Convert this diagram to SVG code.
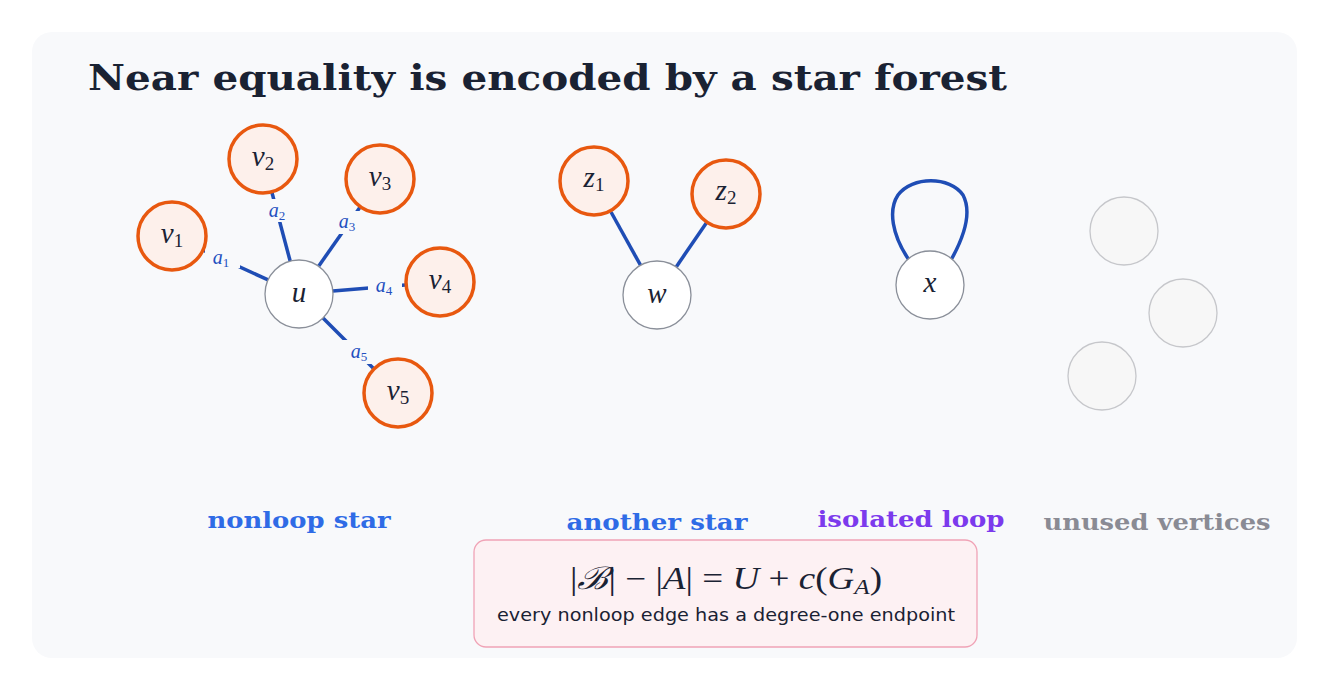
<svg xmlns="http://www.w3.org/2000/svg" width="1330" height="690" viewBox="0 0 1330 690">
<style>
.bg{fill:#f8f9fb}
.leaf{fill:#fdf0eb;stroke:#e8580f;stroke-width:3.5}
.center{fill:#ffffff;stroke:#8a8f99;stroke-width:1.3}
.unused{fill:#f7f7f7;stroke:#c6c7cb;stroke-width:1.3}
.edge{stroke:#1f4db5;stroke-width:3.5;fill:none;stroke-linecap:butt}
.nl{font-family:"Liberation Serif","DejaVu Serif",serif;font-style:italic;font-size:29px;fill:#1a2233;text-anchor:middle}
.sub{font-style:normal;font-size:19px}
.el{font-family:"Liberation Serif","DejaVu Serif",serif;font-style:italic;font-size:20px;fill:#2450c0;text-anchor:middle}
.esub{font-style:normal;font-size:13px}
.lab{font-family:"DejaVu Serif","Liberation Serif",serif;font-weight:bold;font-size:23px;text-anchor:middle}
.gap{fill:#f8f9fb}
</style>
<rect class="bg" x="32" y="32" width="1265" height="626" rx="20"/>
<text x="88" y="90" font-family="DejaVu Serif,Liberation Serif,serif" font-weight="bold" font-size="36" fill="#1a2233" textLength="919" lengthAdjust="spacingAndGlyphs">Near equality is encoded by a star forest</text>
<g id="connectors">
<line class="edge" x1="268.1" y1="279.9" x2="203.8" y2="250.5"/>
<line class="edge" x1="290.2" y1="261.2" x2="272" y2="192.8"/>
<line class="edge" x1="318.6" y1="266.2" x2="359.8" y2="207.6"/>
<line class="edge" x1="332.9" y1="291.1" x2="405.1" y2="285"/>
<line class="edge" x1="323" y1="318" x2="373.3" y2="368.3"/>
<line class="edge" x1="640.5" y1="265.2" x2="611" y2="212"/>
<line class="edge" x1="676.2" y1="266.9" x2="706.3" y2="222.9"/>
<path class="edge" d="M 909 260 C 892 235, 888 210, 898 195 C 912 176, 950 176, 963 195 C 972 212, 965 235, 951 260"/>
<rect class="gap" x="205" y="246" width="35" height="22"/>
<rect class="gap" x="262" y="199" width="31" height="23"/>
<rect class="gap" x="332" y="211" width="31" height="23"/>
<rect class="gap" x="368" y="275" width="34" height="22"/>
<rect class="gap" x="342" y="340" width="34" height="24"/>
<text class="el" x="221" y="264">a<tspan class="esub" dy="3">1</tspan></text>
<text class="el" x="277" y="217">a<tspan class="esub" dy="3">2</tspan></text>
<text class="el" x="347" y="228">a<tspan class="esub" dy="3">3</tspan></text>
<text class="el" x="384" y="292">a<tspan class="esub" dy="3">4</tspan></text>
<text class="el" x="359" y="358">a<tspan class="esub" dy="3">5</tspan></text>
</g>
<g id="u"><circle class="center" cx="299" cy="294" r="34"/><text class="nl" x="299" y="302">u</text></g>
<g id="v1"><circle class="leaf" cx="172" cy="236" r="34"/><text class="nl" x="172" y="243">v<tspan class="sub" dy="4">1</tspan></text></g>
<g id="v2"><circle class="leaf" cx="263" cy="159" r="34"/><text class="nl" x="263" y="166">v<tspan class="sub" dy="4">2</tspan></text></g>
<g id="v3"><circle class="leaf" cx="380" cy="179" r="34"/><text class="nl" x="380" y="186">v<tspan class="sub" dy="4">3</tspan></text></g>
<g id="v4"><circle class="leaf" cx="440" cy="282" r="34"/><text class="nl" x="440" y="289">v<tspan class="sub" dy="4">4</tspan></text></g>
<g id="v5"><circle class="leaf" cx="398" cy="393" r="34"/><text class="nl" x="398" y="400">v<tspan class="sub" dy="4">5</tspan></text></g>
<g id="w"><circle class="center" cx="657" cy="295" r="34"/><text class="nl" x="657" y="303">w</text></g>
<g id="z1"><circle class="leaf" cx="594" cy="181" r="34"/><text class="nl" x="594" y="187">z<tspan class="sub" dy="4">1</tspan></text></g>
<g id="z2"><circle class="leaf" cx="726" cy="194" r="34"/><text class="nl" x="726" y="200">z<tspan class="sub" dy="4">2</tspan></text></g>
<g id="x"><circle class="center" cx="930" cy="285" r="34"/><text class="nl" x="930" y="292">x</text></g>
<g id="unused1"><circle class="unused" cx="1124" cy="231" r="34"/></g>
<g id="unused2"><circle class="unused" cx="1183" cy="313" r="34"/></g>
<g id="unused3"><circle class="unused" cx="1102" cy="376" r="34"/></g>
<g id="labels">
<text class="lab" x="299" y="528" fill="#2f6be6" textLength="183" lengthAdjust="spacingAndGlyphs">nonloop star</text>
<text class="lab" x="657" y="530" fill="#2f6be6" textLength="181" lengthAdjust="spacingAndGlyphs">another star</text>
<text class="lab" x="911" y="527" fill="#7c3aed" textLength="187" lengthAdjust="spacingAndGlyphs">isolated loop</text>
<text class="lab" x="1157" y="530" fill="#8a8b94" textLength="227" lengthAdjust="spacingAndGlyphs">unused vertices</text>
</g>
<g id="formula">
<rect x="474" y="540" width="503" height="107" rx="12" fill="#fdf1f3" stroke="#f0a3b6" stroke-width="1.3"/>
<text x="726" y="589" font-family="Liberation Serif,DejaVu Serif,serif" font-size="31" fill="#1a2233" text-anchor="middle" textLength="312" lengthAdjust="spacingAndGlyphs">|<tspan font-style="italic">ℬ</tspan>| − |<tspan font-style="italic">A</tspan>| = <tspan font-style="italic">U</tspan> + <tspan font-style="italic">c</tspan>(<tspan font-style="italic">G</tspan><tspan font-style="italic" font-size="21" dy="5">A</tspan><tspan dy="-5">)</tspan></text>
<text x="726" y="621" font-family="DejaVu Sans,Noto Sans,sans-serif" font-size="18" fill="#1a2233" text-anchor="middle" textLength="458" lengthAdjust="spacingAndGlyphs">every nonloop edge has a degree-one endpoint</text>
</g>
</svg>
